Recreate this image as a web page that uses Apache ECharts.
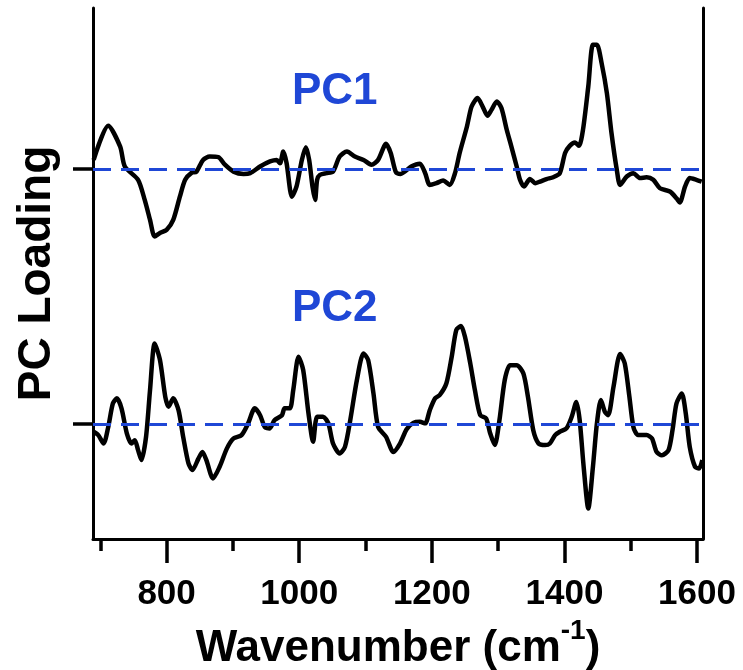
<!DOCTYPE html>
<html>
<head>
<meta charset="utf-8">
<script src="https://cdn.jsdelivr.net/npm/echarts@6/dist/echarts.min.js"></script>
<style>html,body{margin:0;padding:0;background:#fff;}#c{width:743px;height:670px;}</style>
</head>
<body>
<div id="c"></div>
<script>
// Wavenumbers (cm-1) and loadings (arbitrary units)
const pc1Wn = [690,712,730,737,757,767,775,782,790,800,810,820,828,838,845,855,865,878,888,901,916,926,941,956,966,971,976,981,989,996,1004,1010,1015,1020,1024,1027,1031,1041,1051,1061,1072,1084,1097,1109,1119,1131,1138,1146,1153,1169,1182,1190,1197,1207,1217,1227,1235,1242,1253,1260,1269,1277,1284,1290,1298,1305,1313,1320,1328,1333,1339,1348,1356,1363,1373,1383,1393,1401,1408,1416,1422,1428,1436,1443,1449,1456,1464,1471,1479,1484,1494,1504,1514,1524,1534,1544,1559,1569,1574,1582,1589,1599,1607];
const pc1Val = [3.5,16.9,8.7,0.9,-4.3,-12.2,-20,-26.5,-25.1,-23.9,-20,-10.9,-4.3,-1.5,-1.1,3.5,4.8,4.6,1.6,-1.1,-2,-1.7,0.9,2.9,3.5,2.2,6.8,2.2,-10.9,-6.9,3.5,8.5,3.5,-6.9,-12.2,-4.3,-2.4,-1.7,-1.1,4.8,6.8,4.8,3.5,1.6,3.5,9.8,6.2,-1.4,-2,0.9,2,-1.7,-6.3,-5.6,-4.6,-6.3,-1.7,6.2,16.6,24.4,27.7,24.2,20.8,23.1,26.4,23.8,15.3,8.7,0.9,-4.3,-6.9,-4,-5.6,-5,-4,-3.3,-1.7,6.2,9,10.3,9,15.3,32.3,48.6,48.6,41.5,29.7,14,-0.4,-6.3,-3,-1.7,-3.6,-3.3,-4.3,-7.6,-8.9,-11.5,-13.2,-6.9,-3.6,-4.3,-5];
const pc2Wn = [690,697,705,712,719,725,732,740,747,752,757,762,769,775,782,790,798,803,810,818,825,833,839,848,854,860,870,880,891,901,913,923,933,941,948,955,963,974,978,986,991,999,1006,1014,1021,1027,1036,1044,1051,1061,1069,1077,1087,1097,1104,1112,1119,1131,1142,1152,1162,1172,1182,1190,1197,1205,1212,1222,1230,1237,1244,1250,1258,1265,1273,1282,1288,1295,1302,1310,1318,1328,1338,1345,1353,1361,1371,1378,1386,1393,1403,1411,1418,1423,1429,1436,1443,1449,1455,1461,1466,1474,1484,1491,1498,1504,1511,1524,1532,1539,1547,1557,1563,1569,1577,1583,1589,1597,1603,1608];
const pc2Val = [-3,-4.3,-7.6,-1.1,8.1,10.1,6.2,-3.6,-7.6,-6.3,-10.2,-14.1,-5,13.3,31.6,25.1,10.7,6.8,10.1,5.5,-5,-15.4,-18,-13.5,-10.9,-14.1,-21.3,-16.7,-9.5,-5.6,-4.3,0.3,6.2,3.5,-1.1,-1.7,1.6,3.5,6.2,6.2,13.3,26.4,21.2,4.2,-6.9,2.9,2.9,0.3,-7.6,-11.5,-8.9,1.6,17.3,27.7,25.1,12,-1.1,-5,-10.9,-7.6,-2,0.5,0.9,0.3,5.5,10.1,11.4,16,26.4,36.9,38.4,34.2,23.8,13.3,3.5,2.2,-3.6,-8.2,1.6,17.3,23.1,23.1,19.9,10.7,-2.4,-7.6,-8.2,-7.6,-4.3,-3,-1.7,2.9,8.7,1.6,-16.7,-33.1,-16.7,0.3,9.4,4.8,3.5,14.6,27.5,23.8,10.7,-1.1,-4.3,-4.3,-5.6,-10.9,-12.2,-10.2,-2.4,8.1,12,4.2,-8.9,-16.7,-17.4,-14.1];
const baselines = [100, 0];          // PC1 is offset above PC2
const majorTicks = [800, 1000, 1200, 1400, 1600];
const minorTicks = [700, 900, 1100, 1300, 1500];
const seriesNames = ['PC1', 'PC2'];

const FONT = 'Liberation Sans, Arial, sans-serif';
const BLUE = '#1f47d6';
const pc1 = pc1Wn.map((w, i) => [w, pc1Val[i] + baselines[0]]);
const pc2 = pc2Wn.map((w, i) => [w, pc2Val[i] + baselines[1]]);

const chart = echarts.init(document.getElementById('c'), null, {renderer: 'canvas'});
chart.setOption({
  animation: false,
  backgroundColor: '#fff',
  grid: {left: 93, right: 40, top: 8, bottom: 131, containLabel: false, outerBoundsMode: 'none'},
  xAxis: [{
    type: 'value', min: 689, max: 1609, position: 'bottom',
    name: '{m|Wavenumber (cm}{sup|-1}{m|)}',
    nameLocation: 'middle', nameGap: 70,
    nameTextStyle: {
      fontFamily: FONT, fontWeight: 'bold', fontSize: 44, color: '#000',
      rich: {
        m: {fontFamily: FONT, fontWeight: 'bold', fontSize: 44, color: '#000', lineHeight: 54, verticalAlign: 'bottom'},
        sup: {fontFamily: FONT, fontWeight: 'bold', fontSize: 28, color: '#000', lineHeight: 28, verticalAlign: 'top'}
      }
    },
    axisLine: {show: true, onZero: false, lineStyle: {color: '#000', width: 3}},
    axisTick: {show: true, customValues: majorTicks, length: 24, lineStyle: {color: '#000', width: 3.5}},
    axisLabel: {customValues: majorTicks, margin: 38, fontFamily: FONT, fontWeight: 'bold', fontSize: 35, color: '#000',
      formatter: v => String(v)},
    splitLine: {show: false}
  }, {
    type: 'value', min: 689, max: 1609, position: 'bottom',
    axisLine: {show: false, onZero: false},
    axisTick: {show: true, customValues: minorTicks, length: 12, lineStyle: {color: '#000', width: 3.5}},
    axisLabel: {show: false},
    splitLine: {show: false}
  }],
  yAxis: [{
    type: 'value', min: -45, max: 163, position: 'left',
    name: 'PC Loading', nameLocation: 'middle', nameGap: 33,
    nameTextStyle: {fontFamily: FONT, fontWeight: 'bold', fontSize: 46, color: '#000'},
    axisLine: {show: true, onZero: false, lineStyle: {color: '#000', width: 3}},
    axisTick: {show: true, customValues: baselines, length: 20, lineStyle: {color: '#000', width: 3.5}},
    axisLabel: {show: false},
    splitLine: {show: false}
  }, {
    type: 'value', min: -45, max: 163, position: 'right',
    axisLine: {show: true, onZero: false, lineStyle: {color: '#000', width: 3}},
    axisTick: {show: false}, axisLabel: {show: false}, splitLine: {show: false}
  }],
  series: [{
    name: seriesNames[0], type: 'line', data: pc1, showSymbol: false, smooth: 0.25,
    lineStyle: {color: '#000', width: 4.5}, z: 2
  }, {
    name: seriesNames[1], type: 'line', data: pc2, showSymbol: false, smooth: 0.25,
    lineStyle: {color: '#000', width: 4.5}, z: 2,
    markLine: {
      silent: true, symbol: 'none', label: {show: false}, z: 5,
      lineStyle: {color: BLUE, width: 3, type: [18, 10]},
      data: baselines.map(v => ({yAxis: v}))
    }
  }],
  graphic: [
    {type: 'text', left: 292, top: 70, style: {text: seriesNames[0], fontFamily: FONT, fontWeight: 'bold', fontSize: 44, fill: BLUE}},
    {type: 'text', left: 292, top: 287, style: {text: seriesNames[1], fontFamily: FONT, fontWeight: 'bold', fontSize: 44, fill: BLUE}}
  ]
});
</script>
</body>
</html>
